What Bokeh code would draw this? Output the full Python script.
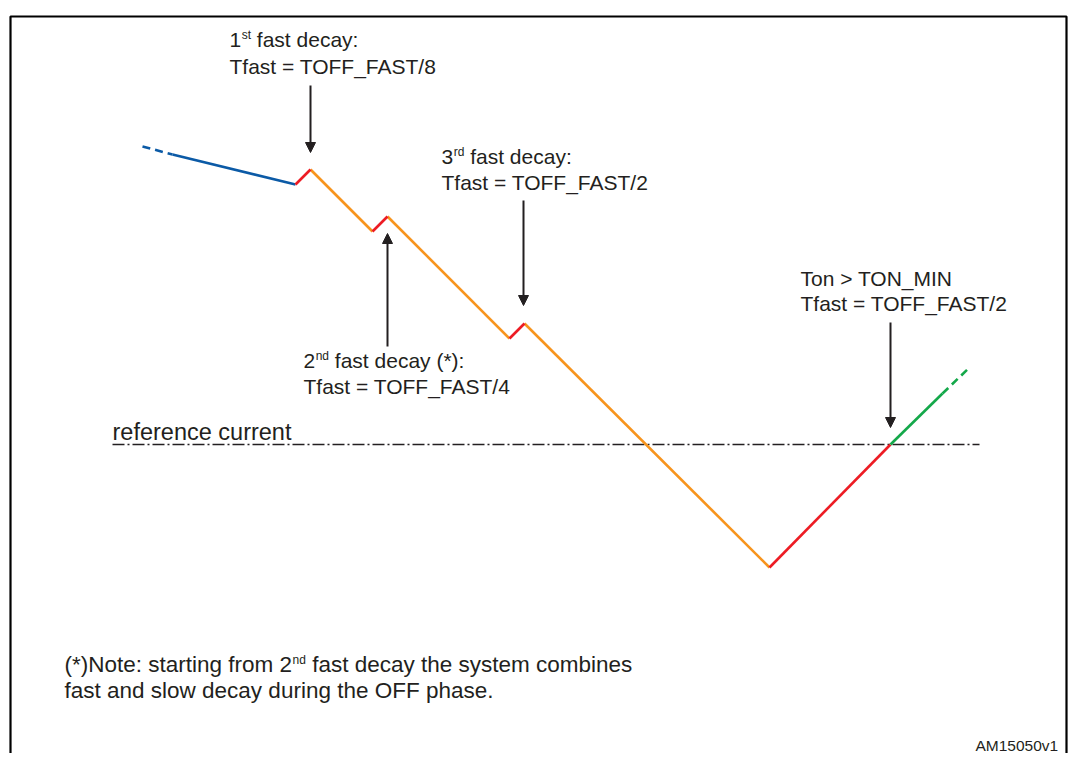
from bokeh.plotting import figure
from bokeh.models import Range1d, Arrow, NormalHead
from bokeh.core.properties import value
from bokeh.embed import file_html
from bokeh.resources import INLINE

# ---- waveform vertices (diagram coordinates, y grows downward) ----
blue_dash_x = [142, 172]
blue_dash_y = [146, 154]
blue_x = [172, 295]
blue_y = [154, 184]
red_segments_x = [[295, 310], [372, 387], [509, 524], [769, 890]]
red_segments_y = [[184, 169], [231, 216], [338, 323], [567, 444]]
orange_segments_x = [[310, 372], [387, 509], [524, 769]]
orange_segments_y = [[169, 231], [216, 338], [323, 567]]
green_x = [890, 942]
green_y = [444, 393]
green_dash_x = [942, 969]
green_dash_y = [393, 367]

ref_x = [112, 979]
ref_y = [444, 444]

# arrows: (x, y_tail, y_tip)
arrow_x = [310, 387, 523, 890]
arrow_tail = [85, 346, 200, 322]
arrow_tip = [152, 233, 305, 427]

# ---- texts ----
label1 = [("1", "st", "fast decay:"), "Tfast = TOFF_FAST/8"]
label2 = [("2", "nd", "fast decay (*):"), "Tfast = TOFF_FAST/4"]
label3 = [("3", "rd", "fast decay:"), "Tfast = TOFF_FAST/2"]
label4 = ["Ton > TON_MIN", "Tfast = TOFF_FAST/2"]
ref_label = "reference current"
note = [("(*)Note: starting from 2", "nd", "fast decay the system combines"),
        "fast and slow decay during the OFF phase."]
code_label = "AM15050v1"

# Arial / Liberation Sans advance widths (per 1000 em)
W = {' ': 278, '(': 333, ')': 333, '*': 389, ':': 278, '.': 278, '/': 278, '_': 556,
     '=': 584, '>': 584, 'A': 667, 'F': 611, 'M': 833, 'N': 722, 'O': 778, 'S': 667,
     'T': 611, 'I': 278, 'a': 556, 'b': 556, 'c': 500, 'd': 556, 'e': 556, 'f': 278,
     'g': 556, 'h': 556, 'i': 222, 'l': 222, 'm': 833, 'n': 556, 'o': 556, 'p': 556,
     'r': 333, 's': 500, 't': 278, 'u': 556, 'w': 722, 'y': 500, 'v': 500}


def tw(s, size):
    return sum(W.get(c, 556) for c in s) * size / 1000.0


FONT = value("Liberation Sans")
TXT = "#231f20"
MAIN = 21
SUP = 12
DY = -7   # text baseline correction

p = figure(width=1068, height=753, x_range=Range1d(0, 1068), y_range=Range1d(753, 0),
           output_backend="svg", toolbar_location=None, min_border=0,
           x_axis_location=None, y_axis_location=None)
p.grid.visible = False
p.outline_line_color = None
p.background_fill_color = "white"

# frame
p.line([10, 10, 1066, 1066], [753, 16, 16, 753], line_color="black", line_width=2.2)

# reference current line
p.line(ref_x, ref_y, line_color="#231f20", line_width=1.3, line_dash="12 3 2 3")

LW = 2.6
p.line(blue_dash_x, blue_dash_y, line_color="#0b5aa6", line_width=LW, line_dash="8 5")
p.line(blue_x, blue_y, line_color="#0b5aa6", line_width=LW)
p.multi_line(orange_segments_x, orange_segments_y, line_color="#f7941d", line_width=LW)
p.multi_line(red_segments_x, red_segments_y, line_color="#ed1c24", line_width=LW)
p.line(green_x, green_y, line_color="#14a84a", line_width=LW)
p.line(green_dash_x, green_dash_y, line_color="#14a84a", line_width=LW, line_dash="8 5")

for ax, yt, yh in zip(arrow_x, arrow_tail, arrow_tip):
    p.add_layout(Arrow(x_start=ax, y_start=yt, x_end=ax, y_end=yh,
                       line_color="#231f20", line_width=2,
                       end=NormalHead(size=10, fill_color="#231f20", line_color="#231f20",
                                      line_width=1)))


def put(x, y, s, size=MAIN):
    p.text(x=[x], y=[y + DY], text=[s], text_font=FONT, text_font_size=f"{size}px",
           text_color=TXT, text_baseline="alphabetic", text_align="left")


def put_sup(x, y, parts, size=MAIN):
    a, sup, b = parts
    put(x, y, a, size)
    x2 = x + tw(a, size)
    put(x2 + 0.5, y - 5, sup, SUP)
    x3 = x2 + tw(sup, SUP) + 0.5 + tw(" ", size)
    put(x3, y, b, size)


put_sup(229, 46, label1[0]); put(229, 73, label1[1])
put_sup(441, 163, label3[0]); put(441, 189, label3[1])
put_sup(303, 367, label2[0]); put(303, 393, label2[1])
put(800, 285, label4[0]); put(800, 310, label4[1])
put(112, 438, ref_label, 23.5)
NOTE = 22.5
put_sup(64, 671, note[0], NOTE); put(64, 697, note[1], NOTE)
put(975, 752, code_label, 15.5)

open("out.html", "w").write(file_html(p, INLINE))
